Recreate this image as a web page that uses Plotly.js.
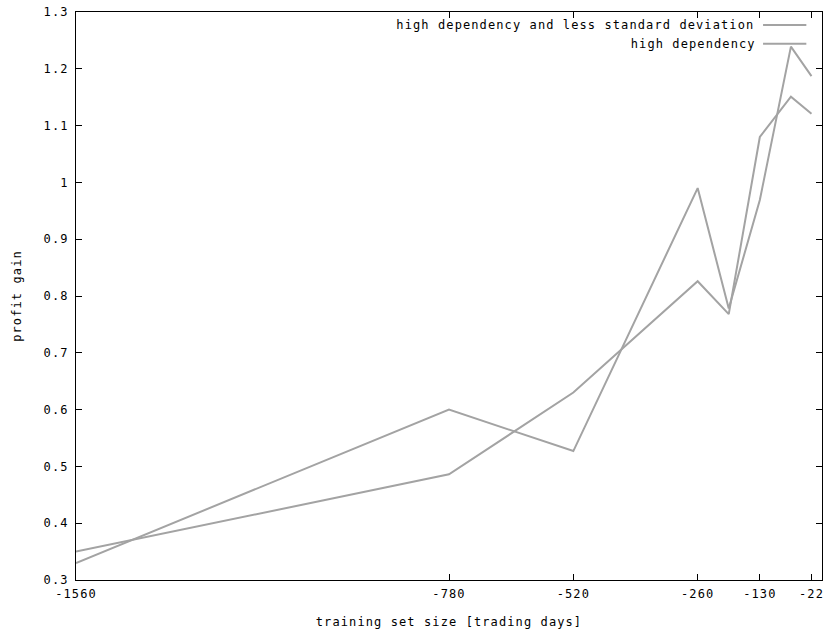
<!DOCTYPE html>
<html>
<head>
<meta charset="utf-8">
<script src="https://cdn.plot.ly/plotly-3.0.1.min.js"></script>
<style>
  html, body { margin: 0; padding: 0; background: #fff; }
  #chart { width: 823px; height: 634px; }
  #chart svg text { letter-spacing: 1.1px; }
</style>
</head>
<body>
<div id="chart"></div>
<script>
// training set size [trading days]
const xValues = [-1560, -780, -520, -260, -195, -130, -65, -22];
const seriesNames = ["high dependency and less standard deviation", "high dependency"];
const lessStdDev = [0.33, 0.60, 0.527, 0.99, 0.778, 0.969, 1.239, 1.187];
const highDependency = [0.35, 0.486, 0.63, 0.826, 0.768, 1.080, 1.151, 1.121];
const xTickVals = [-1560, -780, -520, -260, -130, -22];
const xTickText = ["-1560", "-780", "-520", "-260", "-130", "-22"];
const yTickVals = [0.3, 0.4, 0.5, 0.6, 0.7, 0.8, 0.9, 1.0, 1.1, 1.2, 1.3];

const lineColor = "#a3a3a3";
const fontFamily = "'DejaVu Sans Mono', 'Liberation Mono', monospace";

const traces = [
  { x: xValues, y: lessStdDev, name: seriesNames[0], mode: "lines",
    line: { color: lineColor, width: 2 }, showlegend: false },
  { x: xValues, y: highDependency, name: seriesNames[1], mode: "lines",
    line: { color: lineColor, width: 2 }, showlegend: false }
];

// gnuplot-style key: text right-aligned, sample line to the right
const keyY = [0.977, 0.944];
const annotations = seriesNames.map((n, i) => ({
  xref: "paper", yref: "paper", x: 0.910, y: keyY[i],
  xanchor: "right", yanchor: "middle", showarrow: false,
  xshift: -Math.round(n.length * 0.55) + 2,
  text: n, font: { family: fontFamily, size: 12, color: "#000" }
}));
const shapes = seriesNames.map((n, i) => ({
  type: "line", xref: "paper", yref: "paper",
  x0: 0.921, x1: 0.979, y0: keyY[i], y1: keyY[i],
  line: { color: lineColor, width: 2 }
}));

const layout = {
  width: 823, height: 634,
  margin: { l: 76, r: 1, t: 12, b: 54, pad: 0 },
  paper_bgcolor: "#fff", plot_bgcolor: "#fff",
  font: { family: fontFamily, size: 12, color: "#000" },
  showlegend: false,
  xaxis: {
    range: [-1560, 0], tickvals: xTickVals, ticktext: xTickText,
    ticks: "inside", ticklen: 6, tickcolor: "#000", tickwidth: 1,
    showline: true, linecolor: "#000", linewidth: 1, mirror: "ticks",
    showgrid: false, zeroline: false, ticklabelstandoff: 3,
    title: { text: "training set size [trading days]", standoff: 17,
             font: { family: fontFamily, size: 12, color: "#000" } }
  },
  yaxis: {
    range: [0.3, 1.3], tickvals: yTickVals,
    ticks: "inside", ticklen: 6, tickcolor: "#000", tickwidth: 1,
    showline: true, linecolor: "#000", linewidth: 1, mirror: "ticks",
    showgrid: false, zeroline: false, ticklabelstandoff: 4,
    title: { text: "profit gain", standoff: 22,
             font: { family: fontFamily, size: 12, color: "#000" } }
  },
  annotations: annotations,
  shapes: shapes
};

Plotly.newPlot("chart", traces, layout, { displayModeBar: false, staticPlot: true });
</script>
</body>
</html>
